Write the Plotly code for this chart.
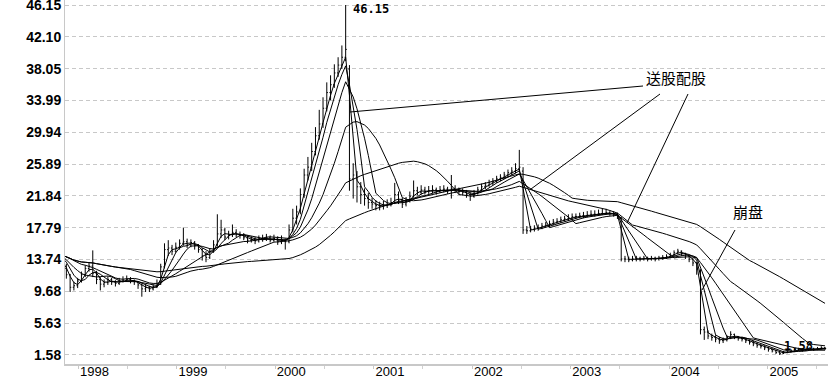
import pandas as pd
import plotly.graph_objects as go

# ---------------- data (bi-weekly bars, first 14 bars are pre-history off-screen) -------------
first_bar = "1997-05-05"
bar_step = "14D"

open_ = [
    13.5, 13.8, 14.5, 15.2, 14.8, 14.2, 14.6, 15.0, 14.4, 13.9, 14.3, 14.8, 14.1, 13.5,
    12.6, 11.8, 10.2, 10.4, 11.0, 11.8, 12.6, 12.9, 12.0, 11.2,
    10.6, 10.8, 11.2, 10.9, 10.7, 11.0, 11.1, 11.2, 11.0, 10.9,
    10.5, 10.0, 10.2, 10.0, 10.3, 10.6, 12.8, 15.0, 15.2, 14.8,
    15.3, 15.8, 16.0, 15.6, 15.9, 15.5, 15.0, 14.2, 14.0, 14.8,
    15.6, 17.0, 17.5, 16.6, 16.9, 17.2, 16.9, 16.8, 16.5, 16.2,
    16.3, 16.1, 16.4, 16.3, 16.5, 16.2, 16.4, 16.0, 16.2, 16.0,
    17.5, 19.0, 19.8, 22.0, 24.5, 25.5, 27.5, 29.5, 31.0, 33.0,
    35.0, 36.0, 37.5, 38.5, 39.5, 38.0, 24.0, 24.5, 23.0, 22.0,
    21.5, 21.0, 20.8, 20.6, 20.5, 20.6, 20.8, 21.0, 22.0, 21.3,
    20.8, 21.2, 21.8, 22.5, 22.3, 22.6, 22.4, 22.5, 22.6, 22.4,
    22.6, 22.7, 22.5, 22.8, 22.6, 22.4, 22.3, 22.0, 21.8, 22.2,
    22.6, 23.0, 23.2, 23.5, 23.7, 24.0, 24.2, 24.5, 24.8, 25.0,
    25.3, 25.0, 17.5, 17.4, 17.6, 17.7, 17.8, 18.0, 18.1, 18.3,
    18.5, 18.6, 18.8, 18.9, 19.0, 19.2, 19.2, 19.3, 19.3, 19.4,
    19.5, 19.5, 19.6, 19.6, 19.7, 19.6, 19.5, 19.0, 13.8, 13.8,
    13.7, 13.8, 13.9, 13.8, 13.9, 13.8, 13.9, 13.8, 13.9, 14.0,
    14.1, 14.3, 14.6, 14.8, 14.5, 14.2, 13.8, 13.3, 12.3, 4.8,
    4.5, 4.0, 3.8, 3.6, 3.4, 3.5, 3.8, 4.2, 3.9, 3.7,
    3.6, 3.4, 3.2, 3.0, 2.8, 2.7, 2.5, 2.3, 2.1, 1.9,
    1.75, 1.9, 2.0, 2.1, 2.2, 2.3, 2.2, 2.3, 2.4, 2.3,
    2.4, 2.5,
]

high = [
    14.2, 14.9, 15.6, 15.5, 15.0, 14.9, 15.4, 15.2, 14.6, 14.6, 15.1, 14.9, 14.3, 13.6,
    13.2, 11.9, 10.9, 11.4, 12.2, 13.0, 13.4, 14.9, 12.3, 11.5,
    11.2, 11.6, 11.4, 11.1, 11.4, 11.6, 11.7, 11.5, 11.2, 11.0,
    10.7, 10.6, 10.4, 10.6, 11.2, 13.2, 15.8, 16.2, 15.6, 15.9,
    16.3, 17.8, 16.4, 16.3, 16.1, 15.7, 15.2, 14.8, 15.2, 16.2,
    19.5, 18.8, 17.8, 17.4, 18.2, 17.6, 17.3, 17.1, 16.8, 16.7,
    16.6, 16.8, 16.9, 17.0, 16.8, 16.9, 16.7, 16.8, 16.4, 18.2,
    20.2, 20.6, 22.8, 25.3, 26.8, 28.6, 30.6, 32.8, 34.4, 36.3,
    37.2, 38.6, 39.5, 41.0, 46.15, 38.5, 26.0, 25.0, 23.6, 22.8,
    22.2, 21.6, 21.3, 21.1, 21.2, 21.4, 21.6, 23.5, 22.4, 21.6,
    21.7, 22.4, 23.8, 23.0, 23.2, 23.0, 23.1, 23.2, 22.9, 23.1,
    23.2, 23.0, 24.5, 23.2, 22.9, 22.8, 22.6, 22.3, 22.6, 23.0,
    23.4, 23.6, 23.9, 24.1, 24.4, 24.6, 24.9, 25.2, 25.5, 26.0,
    27.7, 25.5, 18.0, 18.0, 18.1, 18.2, 18.4, 18.5, 18.7, 18.9,
    19.0, 19.2, 19.3, 19.5, 19.6, 19.6, 19.7, 19.8, 19.9, 20.0,
    20.0, 20.1, 20.2, 20.2, 20.0, 19.9, 19.7, 19.2, 14.2, 14.1,
    14.2, 14.2, 14.1, 14.2, 14.1, 14.2, 14.1, 14.2, 14.3, 14.4,
    14.6, 14.9, 15.1, 14.9, 14.6, 14.3, 13.9, 13.4, 12.5, 5.2,
    4.7, 4.3, 4.1, 3.9, 3.8, 4.1, 4.6, 4.3, 4.0, 3.9,
    3.7, 3.5, 3.4, 3.2, 3.0, 2.8, 2.6, 2.4, 2.2, 2.0,
    2.1, 2.2, 2.3, 2.4, 2.5, 2.4, 2.5, 2.6, 2.5, 2.6,
    2.7, 2.6,
]

low = [
    13.2, 13.6, 14.2, 14.4, 13.9, 14.0, 14.3, 14.1, 13.6, 13.7, 14.1, 13.8, 13.2, 12.5,
    11.3, 9.6, 9.8, 10.1, 10.8, 11.5, 12.2, 11.5, 10.6, 9.8,
    10.2, 10.5, 10.5, 10.3, 10.5, 10.8, 10.9, 10.7, 10.5, 10.0,
    9.0, 9.6, 9.6, 9.8, 10.1, 10.5, 12.6, 14.2, 14.3, 14.6,
    15.0, 15.5, 15.2, 15.3, 15.0, 14.6, 13.6, 13.4, 13.8, 14.6,
    15.4, 16.5, 16.2, 16.3, 16.6, 16.6, 16.4, 16.2, 15.8, 15.9,
    15.7, 15.9, 16.0, 16.1, 15.9, 16.0, 15.6, 15.7, 15.0, 15.8,
    17.2, 18.2, 19.5, 21.6, 23.8, 25.0, 27.0, 29.0, 30.5, 32.6,
    34.0, 35.6, 37.0, 38.0, 39.0, 22.5, 21.5, 21.0, 20.8, 20.6,
    20.2, 20.2, 20.0, 20.0, 20.1, 20.3, 20.5, 20.8, 20.8, 20.3,
    20.5, 21.0, 21.6, 21.9, 22.0, 22.0, 22.1, 22.2, 22.0, 22.2,
    22.3, 22.1, 21.5, 22.2, 22.0, 21.9, 21.6, 21.2, 21.6, 22.0,
    22.4, 22.7, 23.0, 23.2, 23.5, 23.7, 24.0, 24.2, 24.5, 24.7,
    25.0, 17.0, 17.0, 17.2, 17.3, 17.4, 17.6, 17.8, 17.9, 18.1,
    18.3, 18.4, 18.6, 18.7, 18.8, 18.9, 19.0, 19.0, 19.1, 19.2,
    19.2, 19.3, 19.4, 19.4, 19.3, 19.2, 18.9, 13.5, 13.4, 13.4,
    13.5, 13.5, 13.5, 13.6, 13.5, 13.6, 13.5, 13.6, 13.7, 13.8,
    13.9, 14.1, 14.4, 14.2, 13.8, 13.4, 12.9, 11.8, 4.2, 3.5,
    3.6, 3.4, 3.2, 3.0, 3.1, 3.3, 3.6, 3.6, 3.4, 3.3,
    3.1, 2.9, 2.7, 2.5, 2.4, 2.2, 2.0, 1.9, 1.7, 1.58,
    1.7, 1.8, 1.9, 2.0, 2.1, 2.0, 2.1, 2.2, 2.1, 2.2,
    2.3, 2.2,
]

close = [
    13.8, 14.5, 15.2, 14.8, 14.2, 14.6, 15.0, 14.4, 13.9, 14.3, 14.8, 14.1, 13.5, 12.8,
    11.8, 10.2, 10.4, 11.0, 11.8, 12.6, 12.9, 12.0, 11.2, 10.6,
    10.8, 11.2, 10.9, 10.7, 11.0, 11.1, 11.2, 11.0, 10.9, 10.5,
    10.0, 10.2, 10.0, 10.3, 10.6, 12.8, 15.0, 15.2, 14.8, 15.3,
    15.8, 16.0, 15.6, 15.9, 15.5, 15.0, 14.2, 14.0, 14.8, 15.6,
    17.0, 17.5, 16.6, 16.9, 17.2, 16.9, 16.8, 16.5, 16.2, 16.3,
    16.1, 16.4, 16.3, 16.5, 16.2, 16.4, 16.0, 16.2, 16.0, 17.5,
    19.0, 19.8, 22.0, 24.5, 25.5, 27.5, 29.5, 31.0, 33.0, 35.0,
    36.0, 37.5, 38.5, 39.5, 40.5, 24.0, 24.5, 23.0, 22.0, 21.5,
    21.0, 20.8, 20.6, 20.5, 20.6, 20.8, 21.0, 22.0, 21.3, 20.8,
    21.2, 21.8, 22.5, 22.3, 22.6, 22.4, 22.5, 22.6, 22.4, 22.6,
    22.7, 22.5, 22.8, 22.6, 22.4, 22.3, 22.0, 21.8, 22.2, 22.6,
    23.0, 23.2, 23.5, 23.7, 24.0, 24.2, 24.5, 24.8, 25.0, 25.3,
    25.5, 17.5, 17.4, 17.6, 17.7, 17.8, 18.0, 18.1, 18.3, 18.5,
    18.6, 18.8, 18.9, 19.0, 19.2, 19.2, 19.3, 19.3, 19.4, 19.5,
    19.5, 19.6, 19.6, 19.7, 19.6, 19.5, 19.2, 13.8, 13.8, 13.7,
    13.8, 13.9, 13.8, 13.9, 13.8, 13.9, 13.8, 13.9, 14.0, 14.1,
    14.3, 14.6, 14.8, 14.5, 14.2, 13.8, 13.3, 12.5, 4.8, 4.5,
    4.0, 3.8, 3.6, 3.4, 3.5, 3.8, 4.2, 3.9, 3.7, 3.6,
    3.4, 3.2, 3.0, 2.8, 2.7, 2.5, 2.3, 2.1, 1.9, 1.75,
    1.9, 2.0, 2.1, 2.2, 2.3, 2.2, 2.3, 2.4, 2.3, 2.4,
    2.5, 2.4,
]

ma_windows = [3, 5, 8, 15, 30, 60]

y_ticks = [1.58, 5.63, 9.68, 13.74, 17.79, 21.84, 25.89, 29.94, 33.99, 38.05, 42.10, 46.15]
y_labels = ["1.58", "5.63", "9.68", "13.74", "17.79", "21.84", "25.89", "29.94",
            "33.99", "38.05", "42.10", "46.15"]
year_ticks = ["1998-01-01", "1999-01-01", "2000-01-01", "2001-01-01",
              "2002-01-01", "2003-01-01", "2004-01-01", "2005-01-01"]
year_labels = ["1998", "1999", "2000", "2001", "2002", "2003", "2004", "2005"]

peak_label = "46.15"
low_label = "1.58"
note_split = "送股配股"
note_crash = "崩盘"

assert len(open_) == len(high) == len(low) == len(close)

# ---------------- figure ----------------
W, H = 833, 380
L, R, T, B = 65, 5, 0, 16

dates = pd.date_range(first_bar, periods=len(close), freq=bar_step)
cs = pd.Series(close, index=dates)

fig = go.Figure()
fig.add_trace(go.Ohlc(
    x=dates, open=open_, high=high, low=low, close=close,
    increasing=dict(line=dict(color="black", width=1)),
    decreasing=dict(line=dict(color="black", width=1)),
    tickwidth=0.3, hoverinfo="skip", showlegend=False,
))
for w in ma_windows:
    ma = cs.rolling(w, min_periods=1).mean()
    fig.add_trace(go.Scatter(
        x=dates, y=ma.values, mode="lines",
        line=dict(color="black", width=1),
        hoverinfo="skip", showlegend=False,
    ))


def px(x):
    return (x - L) / (W - L - R)


def py(y):
    return 1 - (y - T) / (H - T - B)


shapes = []
for (x0, y0, x1, y1) in [(350, 112, 643, 86), (660, 94, 531, 189),
                         (688, 94, 627, 223), (735, 230, 702, 290)]:
    shapes.append(dict(type="line", xref="paper", yref="paper",
                       x0=px(x0), y0=py(y0), x1=px(x1), y1=py(y1),
                       line=dict(color="black", width=1)))

mono = "DejaVu Sans Mono"
cjk = "Noto Sans CJK SC"
annotations = [
    dict(text=peak_label, x=px(351), y=py(9), xanchor="left", yanchor="middle",
         font=dict(family=mono, size=12, color="black", weight="bold")),
    dict(text=low_label, x=px(798), y=py(346), xanchor="center", yanchor="middle",
         font=dict(family=mono, size=12, color="black", weight="bold")),
    dict(text=note_split, x=px(676), y=py(77), xanchor="center", yanchor="middle",
         font=dict(family=cjk, size=15, color="black")),
    dict(text=note_crash, x=px(748), y=py(211), xanchor="center", yanchor="middle",
         font=dict(family=cjk, size=15, color="black")),
]
for a in annotations:
    a.update(xref="paper", yref="paper", showarrow=False)

fig.update_layout(
    width=W, height=H,
    margin=dict(l=L, r=R, t=T, b=B, pad=0, autoexpand=False),
    paper_bgcolor="white", plot_bgcolor="white",
    showlegend=False,
    shapes=shapes, annotations=annotations,
    xaxis=dict(
        type="date", range=["1997-11-12", "2005-08-12"],
        rangeslider=dict(visible=False), automargin=False,
        tickmode="array", tickvals=year_ticks, ticktext=year_labels,
        showgrid=False, zeroline=False,
        showline=True, linecolor="#c8c8c8", linewidth=2,
        ticks="outside", ticklen=3, tickcolor="#c8c8c8",
        tickfont=dict(family="Liberation Sans, Arial", size=13, color="black"),
        ticklabelshift=16, ticklabelstandoff=-9, ticklabeloverflow="allow",
        minor=dict(dtick="M6", tick0="1998-01-01", ticks="outside", ticklen=3,
                   tickcolor="#d0d0d0", showgrid=False),
    ),
    yaxis=dict(
        range=[0.43, 46.79], automargin=False,
        tickmode="array", tickvals=y_ticks, ticktext=y_labels,
        showgrid=True, gridcolor="#c8c8c8", gridwidth=1, griddash="4px,3px",
        zeroline=False,
        showline=True, linecolor="#c8c8c8", linewidth=1,
        ticks="", ticklabeloverflow="allow",
        tickfont=dict(family="Liberation Sans, Arial", size=14, color="black", weight="bold"),
    ),
)

fig.write_html(
    "out.html",
    config={"displayModeBar": False},
    post_script="document.body.style.margin='0';document.body.style.overflow='hidden';",
)
